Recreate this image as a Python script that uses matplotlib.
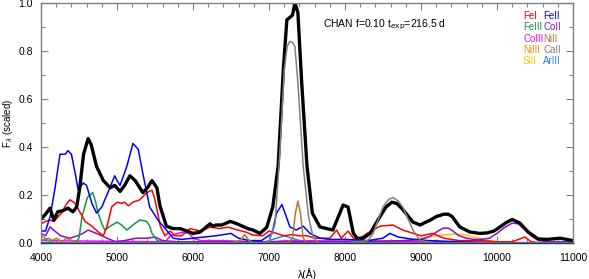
import matplotlib
matplotlib.use("Agg")
import matplotlib.pyplot as plt
from matplotlib.ticker import MultipleLocator

plt.rcParams["font.family"] = ["Liberation Sans", "DejaVu Sans"]

# -------------------------------------------------
# Data (flux scaled to peak)
# -------------------------------------------------
total_wl = [4000, 4060, 4118, 4170, 4220, 4290, 4355, 4420, 4470, 4510, 4560, 4620, 4660,
            4730, 4820, 4910, 4970, 5040, 5100, 5170, 5240, 5300, 5340, 5400, 5460, 5525,
            5565, 5650, 5740, 5830, 5920, 6000, 6090, 6150, 6225, 6260, 6300, 6380, 6490,
            6580, 6650, 6720, 6790, 6880, 6970, 7050, 7120, 7190, 7235, 7275, 7310, 7340,
            7380, 7430, 7500, 7570, 7670, 7760, 7840, 7900, 7975, 8040, 8110, 8160, 8240,
            8330, 8460, 8540, 8615, 8680, 8760, 8810, 8895, 8990, 9050, 9120, 9200, 9300,
            9360, 9410, 9510, 9640, 9770, 9870, 9960, 10040, 10120, 10200, 10300, 10410,
            10540, 10660, 10830, 11000]
total_fx = [0.10, 0.12, 0.145, 0.095, 0.13, 0.135, 0.145, 0.13, 0.15, 0.23, 0.37, 0.435, 0.41,
            0.32, 0.26, 0.23, 0.24, 0.215, 0.24, 0.28, 0.26, 0.23, 0.21, 0.23, 0.26, 0.23,
            0.155, 0.07, 0.06, 0.06, 0.05, 0.04, 0.045, 0.06, 0.08, 0.07, 0.075, 0.075, 0.09,
            0.08, 0.07, 0.06, 0.054, 0.04, 0.065, 0.15, 0.32, 0.73, 0.93, 0.94, 0.95, 1.0,
            0.96, 0.67, 0.32, 0.125, 0.067, 0.06, 0.054, 0.10, 0.158, 0.15, 0.04, 0.02, 0.02,
            0.04, 0.11, 0.15, 0.17, 0.165, 0.14, 0.12, 0.087, 0.075, 0.085, 0.095, 0.11, 0.12,
            0.12, 0.11, 0.067, 0.046, 0.04, 0.042, 0.05, 0.067, 0.085, 0.098, 0.083, 0.046,
            0.017, 0.015, 0.02, 0.01]

fe1_wl = [4000, 4060, 4120, 4170, 4270, 4330, 4380, 4450, 4510, 4580, 4670, 4750, 4820, 4870,
          4930, 5000, 5060, 5100, 5150, 5210, 5300, 5390, 5460, 5500, 5570, 5630, 5700, 5760,
          5850, 5960, 6100, 6225, 6350, 6460, 6580, 6700, 6790, 6920, 7000, 7100, 7200, 7300,
          7400, 7500, 7600, 7700, 7800, 7890, 7950, 8040, 8110, 8200, 8290, 8460, 8630, 8760,
          8900, 9000, 9150, 9300, 9500, 9800, 10000, 10200, 10370, 10450, 10600, 11000]
fe1_fx = [0.08, 0.09, 0.095, 0.09, 0.125, 0.16, 0.18, 0.165, 0.13, 0.09, 0.07, 0.047, 0.03, 0.07,
          0.15, 0.17, 0.165, 0.17, 0.155, 0.17, 0.18, 0.21, 0.22, 0.18, 0.07, 0.03, 0.05, 0.03,
          0.03, 0.06, 0.05, 0.066, 0.06, 0.066, 0.055, 0.045, 0.033, 0.03, 0.05, 0.04, 0.03, 0.035,
          0.03, 0.03, 0.02, 0.02, 0.02, 0.054, 0.02, 0.05, 0.02, 0.02, 0.04, 0.07, 0.075, 0.054,
          0.04, 0.03, 0.04, 0.02, 0.01, 0.01, 0.005, 0.005, 0.025, 0.005, 0.0, 0.0]

fe2_wl = [4000, 4060, 4120, 4185, 4250, 4320, 4355, 4400, 4450, 4490, 4555, 4600, 4670, 4730,
          4800, 4880, 4970, 5000, 5040, 5130, 5210, 5280, 5340, 5430, 5540, 5650, 5740, 5850,
          6000, 6150, 6300, 6400, 6500, 6600, 6750, 6900, 7040, 7100, 7170, 7210, 7275, 7360,
          7450, 7540, 7670, 7800, 8000, 8300, 8500, 8590, 8700, 8900, 9100, 9500, 10000, 11000]
fe2_fx = [0.05, 0.05, 0.11, 0.23, 0.37, 0.37, 0.385, 0.37, 0.29, 0.22, 0.25, 0.24, 0.165, 0.125,
          0.15, 0.21, 0.28, 0.26, 0.24, 0.32, 0.415, 0.39, 0.29, 0.15, 0.095, 0.054, 0.02, 0.015,
          0.02, 0.025, 0.03, 0.035, 0.04, 0.02, 0.01, 0.01, 0.04, 0.125, 0.16, 0.125, 0.067, 0.054,
          0.07, 0.04, 0.02, 0.015, 0.015, 0.01, 0.02, 0.04, 0.025, 0.015, 0.01, 0.005, 0.0, 0.0]

fe3_wl = [4000, 4450, 4500, 4540, 4610, 4680, 4720, 4750, 4800, 4840, 4910, 5000, 5060, 5130,
          5210, 5300, 5390, 5430, 5460, 5530, 5600, 11000]
fe3_fx = [0.0, 0.0, 0.02, 0.11, 0.19, 0.21, 0.17, 0.125, 0.08, 0.054, 0.07, 0.087, 0.075, 0.054,
          0.075, 0.096, 0.09, 0.07, 0.04, 0.01, 0.0, 0.0]

co2_wl = [4000, 4060, 4120, 4180, 4260, 4380, 4480, 4550, 4620, 4730, 4870, 4980, 5100, 5250,
          5400, 5500, 5600, 5800, 7000, 8000, 8800, 9000, 9100, 9200, 9290, 9360, 9420, 9500,
          9600, 9700, 9800, 9900, 10000, 10100, 10200, 10280, 10350, 10450, 10550, 10700, 11000]
co2_fx = [0.04, 0.03, 0.067, 0.05, 0.03, 0.02, 0.03, 0.04, 0.054, 0.04, 0.02, 0.005, 0.01, 0.02,
          0.02, 0.025, 0.01, 0.005, 0.005, 0.005, 0.01, 0.015, 0.025, 0.045, 0.062, 0.062, 0.05,
          0.03, 0.02, 0.015, 0.015, 0.02, 0.04, 0.065, 0.083, 0.08, 0.06, 0.03, 0.01, 0.005, 0.005]

co3_wl = [4000, 5500, 5650, 5700, 5800, 5870, 5950, 6000, 6100, 6300, 7000, 7300, 11000]
co3_fx = [0.01, 0.005, 0.01, 0.03, 0.04, 0.045, 0.04, 0.02, 0.01, 0.01, 0.005, 0.01, 0.0]

ni2_wl = [4000, 4100, 4150, 4200, 4280, 4330, 4400, 4500, 6500, 6620, 6680, 6740, 6800, 7250,
          7310, 7345, 7380, 7415, 7450, 7500, 11000]
ni2_fx = [0.01, 0.02, 0.01, 0.02, 0.005, 0.02, 0.01, 0.0, 0.0, 0.01, 0.035, 0.01, 0.0, 0.0,
          0.02, 0.12, 0.175, 0.12, 0.02, 0.0, 0.0]

ni3_wl = [4000, 6900, 7100, 7250, 7400, 7600, 11000]
ni3_fx = [0.0, 0.0, 0.005, 0.01, 0.005, 0.0, 0.0]

ca2_wl = [4000, 4100, 4200, 4400, 5000, 6000, 6900, 7000, 7080, 7145, 7200, 7240, 7275, 7310,
          7340, 7380, 7450, 7520, 7580, 7650, 8000, 8300, 8370, 8440, 8500, 8570, 8630, 8700,
          8760, 8830, 8895, 8990, 9200, 11000]
ca2_fx = [0.03, 0.01, 0.0, 0.0, 0.0, 0.0, 0.0, 0.005, 0.08, 0.39, 0.72, 0.82, 0.84, 0.835,
          0.82, 0.67, 0.32, 0.11, 0.025, 0.0, 0.0, 0.01, 0.04, 0.10, 0.15, 0.18, 0.19, 0.175,
          0.15, 0.10, 0.054, 0.01, 0.0, 0.0]

si2_wl = [4000, 8500, 8800, 9000, 9200, 9400, 9550, 9700, 9850, 10000, 10200, 11000]
si2_fx = [0.0, 0.0, 0.01, 0.02, 0.03, 0.037, 0.035, 0.025, 0.012, 0.005, 0.0, 0.0]

ar3_wl = [4000, 6900, 7050, 7200, 7350, 7500, 11000]
ar3_fx = [0.0, 0.0, 0.015, 0.03, 0.015, 0.0, 0.0]

# legend entries: (label, colour), laid out in two columns
LEGEND = [("FeI", "#ff0000"), ("FeII", "#0000ff"),
          ("FeIII", "#119944"), ("CoII", "#8a10c0"),
          ("CoIII", "#ff00ff"), ("NiII", "#b07a30"),
          ("NiIII", "#ff8c00"), ("CaII", "#808080"),
          ("SiII", "#ffc000"), ("ArIII", "#2080ff")]
COL = dict(LEGEND)

# -------------------------------------------------
# Figure
# -------------------------------------------------
DPI = 100
fig = plt.figure(figsize=(589 / DPI, 279 / DPI), dpi=DPI)
ax = fig.add_axes([41 / 589, 36 / 279, (573 - 41) / 589, (276 - 36) / 279])

lw = 1.1
ax.plot(si2_wl, si2_fx, color=COL["SiII"], lw=lw)
ax.plot(ni3_wl, ni3_fx, color=COL["NiIII"], lw=lw)
ax.plot(ar3_wl, ar3_fx, color=COL["ArIII"], lw=lw)
ax.plot(co3_wl, co3_fx, color=COL["CoIII"], lw=lw)
ax.plot(co2_wl, co2_fx, color=COL["CoII"], lw=lw)
ax.plot(fe3_wl, fe3_fx, color=COL["FeIII"], lw=lw)
ax.plot(fe1_wl, fe1_fx, color=COL["FeI"], lw=lw)
ax.plot(fe2_wl, fe2_fx, color=COL["FeII"], lw=lw)
ax.plot(ni2_wl, ni2_fx, color=COL["NiII"], lw=lw)
ax.plot(total_wl, total_fx, color="black", lw=2.4, solid_joinstyle="round")
ax.plot(ca2_wl, ca2_fx, color=COL["CaII"], lw=lw)

ax.set_xlim(4000, 11000)
ax.set_ylim(0, 1.0)

# -------------------------------------------------
# Axes styling (IDL-like)
# -------------------------------------------------
for s in ax.spines.values():
    s.set_color("#808080")
    s.set_linewidth(1.0)
ax.spines["bottom"].set_color("#1a3a6a")

ax.xaxis.set_major_locator(MultipleLocator(1000))
ax.xaxis.set_minor_locator(MultipleLocator(200))
ax.yaxis.set_major_locator(MultipleLocator(0.2))
ax.yaxis.set_minor_locator(MultipleLocator(0.1))
ax.yaxis.set_major_formatter(matplotlib.ticker.FormatStrFormatter("%.1f"))
ax.tick_params(which="both", direction="in", top=True, right=True,
               color="#808080", labelsize=7.5)
ax.tick_params(axis="x", pad=7)
ax.tick_params(axis="y", pad=6)
ax.tick_params(which="major", length=5, width=0.8)
ax.tick_params(which="minor", length=3, width=0.8)

ax.set_xlabel("λ(Å)", fontsize=7.5, labelpad=4)
ax.set_ylabel(r"F$_\lambda$ (scaled)", fontsize=7)
ax.yaxis.set_label_coords(-0.049, 0.5)

ax.text(0.53, 0.91, r"CHAN f=0.10 t$_{\rm exp}$=216.5 d", transform=ax.transAxes,
        fontsize=7.5, ha="left", va="center")

x_cols = [523, 543]
y0, dy = 16, 11.3
for i, (name, color) in enumerate(LEGEND):
    r, c = divmod(i, 2)
    fig.text(x_cols[c] / 589, 1 - (y0 + r * dy) / 279, name, color=color,
             fontsize=7, ha="left", va="center")

fig.savefig("out.png", dpi=DPI)
